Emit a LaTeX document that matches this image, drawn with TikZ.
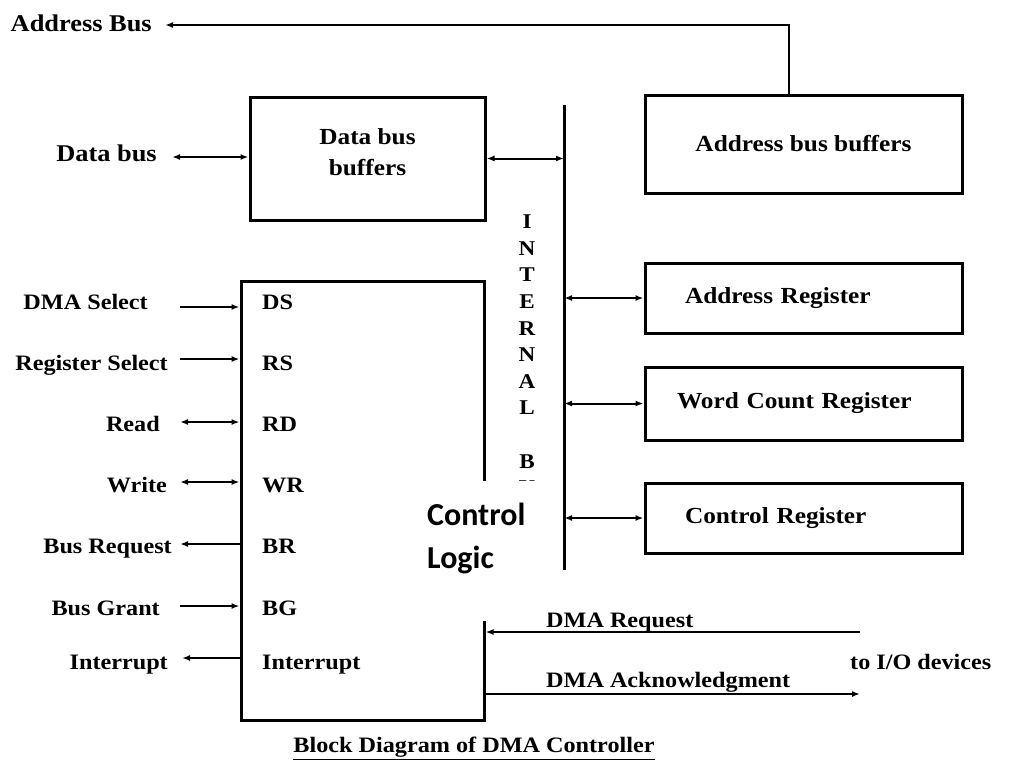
\documentclass[tikz,border=0pt]{standalone}
\usepackage{fontspec}
\setmainfont{Liberation Serif}[FakeStretch=1.1]
\newfontfamily\clfont{Carlito}
\usetikzlibrary{arrows.meta}
\begin{document}
\begin{tikzpicture}[x=1pt,y=-1pt,
  box/.style={draw, line width=3pt, inner sep=0pt},
  lbl/.style={font=\fontsize{22}{26}\selectfont\bfseries, inner sep=0pt},
  biglbl/.style={font=\fontsize{24}{28}\selectfont\bfseries, inner sep=0pt},
  boxtext/.style={font=\fontsize{23}{31}\selectfont\bfseries},
  letter/.style={font=\fontsize{21}{24}\selectfont\bfseries, inner sep=0pt},
  conn/.style={line width=2pt},
  tip/.style={conn, -{Latex[length=8pt,width=6pt]}},
  both/.style={conn, {Latex[length=8pt,width=6pt]}-{Latex[length=8pt,width=6pt]}},
]
\useasboundingbox[fill=white] (0,0) rectangle (1009,763);

% boxes
\node[box, minimum width=235pt, minimum height=123pt] (dbb) at (367.5,158.5) {};
\node[boxtext, align=center, inner sep=0pt] (dbbt) at (367.5,152) {Data bus\\buffers};
\node[box, boxtext, align=center, minimum width=317pt, minimum height=98pt] (abb) at (803.5,144) {Address bus buffers};
\node[box, boxtext, align=left, text width=237pt, inner xsep=40pt, minimum height=70pt] (ar) at (803.5,298) {Address Register};
\node[box, boxtext, align=left, text width=253pt, inner xsep=32pt, minimum height=73pt] (wcr) at (803.5,403.5) {Word Count Register};
\node[box, boxtext, align=left, text width=237pt, inner xsep=40pt, minimum height=70pt] (cr) at (803.5,518) {Control Register};
\node[box, minimum width=243pt, minimum height=439pt] (cl) at (362.5,500.5) {};

% top labels
\node[biglbl, anchor=base east] (abl) at (152,31) {Address Bus};
\node[biglbl, anchor=base east] (dbl) at (157,161.5) {Data bus};
\coordinate (abEnd) at (165,25);
\coordinate (dbEnd) at (172,157);
\draw[tip] ([xshift=-14.5pt]abb.north) |- (abEnd);
\draw[both] (dbEnd) -- (dbEnd -| dbb.west);

% internal bus
\coordinate (busT) at (564,105);
\coordinate (busB) at (564,570);
\draw[line width=3pt] (busT) -- (busB);
\draw[both] (dbb.east) -- (dbb.east -| busT);
\draw[both] (ar.west -| busT) -- (ar.west);
\draw[both] (wcr.west -| busT) -- (wcr.west);
\draw[both] (cr.west -| busT) -- (cr.west);

\foreach \l/\yy [count=\i] in {I/222,N/248.6,T/275,E/302,R/328.5,N/355,A/382,L/408,B/462,U/488}
  \node[letter] (ib\i) at (527,\yy) {\l};

% pin labels inside control logic
\node[lbl, anchor=base west] (pDS) at (262,309.5) {DS};
\node[lbl, anchor=base west] (pRS) at (262,370.5) {RS};
\node[lbl, anchor=base west] (pRD) at (262,431.5) {RD};
\node[lbl, anchor=base west] (pWR) at (262,492.5) {WR};
\node[lbl, anchor=base west] (pBR) at (262,553.5) {BR};
\node[lbl, anchor=base west] (pBG) at (262,615.5) {BG};
\node[lbl, anchor=base west] (pINT) at (262,669.5) {Interrupt};

% left signal labels
\node[lbl, anchor=base east] (sDS) at (148,309.5) {DMA Select};
\node[lbl, anchor=base east] (sRS) at (168,370.5) {Register Select};
\node[lbl, anchor=base east] (sRD) at (160,431.5) {Read};
\node[lbl, anchor=base east] (sWR) at (167,492.5) {Write};
\node[lbl, anchor=base east] (sBR) at (172,553.5) {Bus Request};
\node[lbl, anchor=base east] (sBG) at (160,615.5) {Bus Grant};
\node[lbl, anchor=base east] (sINT) at (168,669.5) {Interrupt};

\coordinate (cDS) at (180,307);
\coordinate (cRS) at (180,359);
\coordinate (cRD) at (180,422);
\coordinate (cWR) at (180,482);
\coordinate (cBR) at (180,544);
\coordinate (cBG) at (180,606);
\coordinate (cINT) at (182,658);
\draw[tip] (cDS) -- (cDS -| cl.west);
\draw[tip] (cRS) -- (cRS -| cl.west);
\draw[both] (cRD) -- (cRD -| cl.west);
\draw[both] (cWR) -- (cWR -| cl.west);
\draw[tip] (cBR -| cl.west) -- (cBR);
\draw[tip] (cBG) -- (cBG -| cl.west);
\draw[tip] (cINT -| cl.west) -- (cINT);

% DMA request / acknowledgment
\coordinate (ioR) at (860,632);
\coordinate (ioA) at (860,694);
\draw[tip] (ioR) -- (ioR -| cl.east);
\draw[tip] (ioA -| cl.east) -- (ioA);
\node[lbl, anchor=base west] (dreq) at (546,627.5) {DMA Request};
\node[lbl, anchor=base west] (dack) at (546,687.5) {DMA Acknowledgment};
\node[lbl, anchor=base west] (io) at (850,669.5) {to I/O devices};

% title
\node[lbl, anchor=base] (title) at (474,752.5) {\underline{Block Diagram of DMA Controller}};

% overlay patch with Control Logic
\node[fill=white, inner sep=0pt, minimum width=128pt, minimum height=140pt, anchor=north west] (patch) at (420,481) {};
\node[font=\clfont\bfseries\fontsize{32}{43}\selectfont, inner sep=0pt, anchor=base west] (ctl1) at (427,525) {Control};
\node[font=\clfont\bfseries\fontsize{32}{43}\selectfont, inner sep=0pt, anchor=base west] (ctl2) at (427,568) {Logic};
\end{tikzpicture}
\end{document}
